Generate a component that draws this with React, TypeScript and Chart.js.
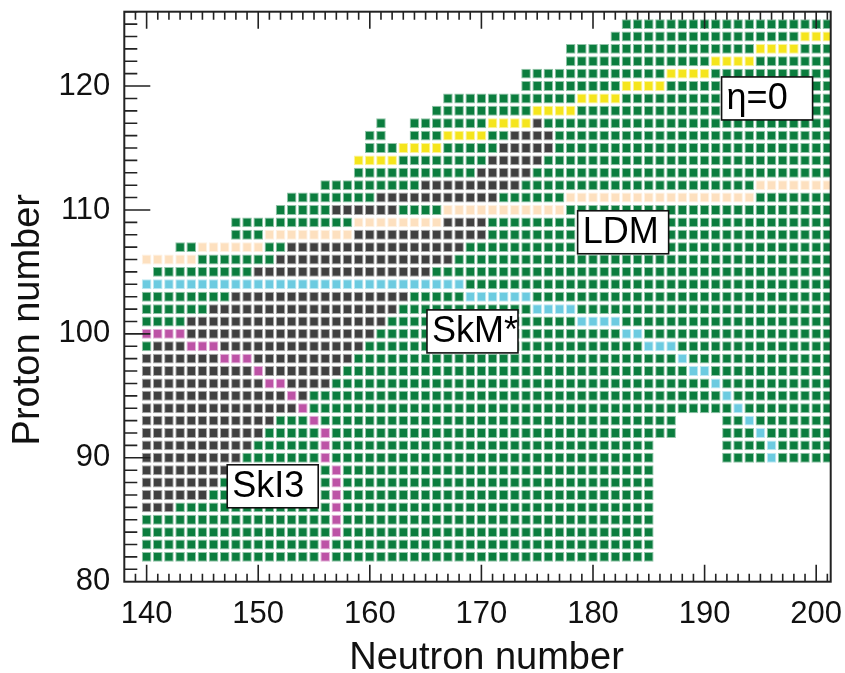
import React, { useEffect, useRef } from "react";
import { Chart, registerables } from "chart.js";

Chart.register(...registerables);

type Seg = [number, number, number]; // [Z, first N, last N]

// all nuclei shown on the chart (rows of the nuclear chart)
const nucleiRows: Seg[] = [
  [82, 140, 185], [83, 140, 185], [84, 140, 185], [85, 140, 185], [86, 140, 185],
  [87, 140, 185], [88, 140, 185], [89, 140, 185],
  [90, 140, 185], [90, 192, 201], [91, 140, 185], [91, 192, 201],
  [92, 140, 187], [92, 192, 201], [93, 140, 187], [93, 192, 201],
  [94, 140, 201], [95, 140, 201], [96, 140, 201], [97, 140, 201], [98, 140, 201],
  [99, 140, 201], [100, 140, 201], [101, 140, 201], [102, 140, 201], [103, 140, 201],
  [104, 140, 201], [105, 141, 201], [106, 140, 201], [107, 143, 201], [108, 148, 201],
  [109, 148, 201], [110, 152, 201], [111, 153, 201], [112, 156, 201], [113, 159, 201],
  [114, 159, 201], [115, 160, 201], [116, 160, 161], [116, 164, 201], [117, 161, 161],
  [117, 164, 201], [118, 166, 201], [119, 167, 201], [120, 174, 201], [121, 174, 201],
  [122, 178, 201], [123, 178, 201], [124, 182, 201], [125, 183, 201],
];

// dark grey region
const darkRegion: Seg[] = [
  [86, 140, 142], [87, 140, 145], [88, 140, 146], [89, 140, 147], [90, 140, 148],
  [91, 140, 149], [92, 140, 150], [93, 140, 151], [94, 140, 153], [95, 140, 154],
  [96, 140, 156], [97, 140, 157], [98, 140, 158], [99, 141, 159], [100, 140, 160],
  [101, 144, 161], [102, 146, 162], [103, 148, 163], [105, 150, 165], [106, 152, 167],
  [107, 153, 168], [108, 159, 170], [109, 167, 170], [110, 157, 162], [111, 161, 171],
  [112, 165, 173], [113, 170, 174], [114, 171, 175], [115, 172, 176], [116, 173, 176],
  [117, 175, 175],
];

// eta = 0 line (yellow)
const eta0Line: Seg[] = [
  [114, 159, 162], [115, 163, 166], [116, 167, 170], [117, 171, 174], [118, 175, 178],
  [119, 179, 182], [120, 183, 186], [121, 187, 190], [122, 191, 194], [123, 195, 198],
  [124, 199, 201],
];

// LDM line (peach)
const ldmLine: Seg[] = [
  [106, 140, 144], [107, 145, 150], [108, 151, 158], [109, 159, 166], [110, 167, 177],
  [111, 178, 194], [112, 195, 201],
];

// SkM* line (light blue)
const skmLine: Seg[] = [
  [104, 140, 168], [103, 169, 174], [102, 175, 178], [101, 179, 182], [100, 183, 184],
  [99, 185, 187], [98, 188, 188], [97, 189, 190], [96, 191, 191], [95, 192, 192],
  [94, 193, 193], [93, 194, 194], [92, 195, 195], [91, 196, 196], [90, 196, 196],
];

// SkI3 line (magenta)
const ski3Line: Seg[] = [
  [100, 140, 143], [99, 144, 146], [98, 147, 149], [97, 150, 150], [96, 151, 152],
  [95, 153, 153], [94, 154, 154], [93, 155, 155], [92, 156, 156], [91, 156, 156],
  [90, 156, 156], [89, 157, 157], [88, 157, 157], [87, 157, 157], [86, 157, 157],
  [85, 157, 157], [84, 157, 157], [83, 156, 156], [82, 156, 156],
];

const xTickLabels = [140, 150, 160, 170, 180, 190, 200];
const yTickLabels = [80, 90, 100, 110, 120];
const xRange = [138, 201.3];
const yRange = [80, 126];

const annotations = [
  { text: "η=0", n: 195.6, z: 119.0 },
  { text: "LDM", n: 182.7, z: 108.2 },
  { text: "SkM*", n: 169.2, z: 100.2 },
  { text: "SkI3", n: 151.3, z: 87.7 },
];

const FONT = "'Liberation Sans', Arial, sans-serif";
const CELL_HALF_H = 0.4;

const layers = [
  { name: "nuclei", segs: nucleiRows, color: "#0b7d3e" },
  { name: "region", segs: darkRegion, color: "#404040" },
  { name: "LDM", segs: ldmLine, color: "#fde0bf" },
  { name: "η=0", segs: eta0Line, color: "#f5e51c" },
  { name: "SkM*", segs: skmLine, color: "#6ccbe0" },
  { name: "SkI3", segs: ski3Line, color: "#bd53a6" },
];

function rgba(hex: string, a: number) {
  const v = parseInt(hex.slice(1), 16);
  return `rgba(${(v >> 16) & 255},${(v >> 8) & 255},${v & 255},${a})`;
}

function buildDatasets() {
  const cat = new Map<string, { n: number; z: number; layer: number }>();
  layers.forEach((layer, li) => {
    for (const [z, a, b] of layer.segs) {
      for (let n = a; n <= b; n++) cat.set(n + ":" + z, { n, z, layer: li });
    }
  });
  return layers.map((layer, li) => {
    const data: any[] = [];
    cat.forEach((c) => {
      if (c.layer === li) data.push({ x: c.n, y: [c.z - CELL_HALF_H, c.z + CELL_HALF_H] });
    });
    return {
      label: layer.name,
      data,
      backgroundColor: layer.color,
      borderColor: rgba(layer.color, 0.45),
      borderWidth: 1,
      borderSkipped: false,
      grouped: false,
      barPercentage: 0.86,
      categoryPercentage: 1,
      clip: 0,
    };
  });
}

const framePlugin = {
  id: "nuclearFrame",
  afterDatasetsDraw(chart: any) {
    const { ctx, chartArea: a, scales } = chart;
    const x = scales.x;
    const y = scales.y;
    ctx.save();
    // annotation boxes
    for (const lab of annotations) {
      const cx = x.getPixelForValue(lab.n);
      const cy = y.getPixelForValue(lab.z);
      const w = 91;
      const h = 43;
      ctx.fillStyle = "#ffffff";
      ctx.fillRect(cx - w / 2, cy - h / 2, w, h);
      ctx.lineWidth = 1.6;
      ctx.strokeStyle = "#111";
      ctx.strokeRect(cx - w / 2, cy - h / 2, w, h);
      ctx.fillStyle = "#000";
      ctx.font = `36px ${FONT}`;
      ctx.textAlign = "left";
      ctx.textBaseline = "middle";
      ctx.fillText(lab.text, cx - w / 2 + 5, cy + 1);
    }
    // frame
    ctx.strokeStyle = "#222";
    ctx.lineWidth = 2;
    ctx.strokeRect(a.left, a.top, a.right - a.left, a.bottom - a.top);
    // inward ticks
    ctx.lineWidth = 1.6;
    ctx.beginPath();
    for (let v = Math.ceil(y.min); v <= Math.floor(y.max); v++) {
      if (v === y.min) continue;
      const py = y.getPixelForValue(v);
      const len = yTickLabels.includes(v) ? 26 : 13;
      ctx.moveTo(a.left, py);
      ctx.lineTo(a.left + len, py);
    }
    for (let v = Math.ceil(x.min); v <= Math.floor(x.max); v++) {
      if (v === x.min) continue;
      const px = x.getPixelForValue(v);
      const major = xTickLabels.includes(v);
      ctx.moveTo(px, a.bottom);
      ctx.lineTo(px, a.bottom - (major ? 17 : 8));
      ctx.moveTo(px, a.top);
      ctx.lineTo(px, a.top + (major ? 17 : 8));
    }
    ctx.stroke();
    // axis titles
    ctx.fillStyle = "#111";
    ctx.font = `38px ${FONT}`;
    ctx.textAlign = "center";
    ctx.textBaseline = "alphabetic";
    ctx.fillText("Neutron number", (a.left + a.right) / 2 + 9, a.bottom + 87);
    ctx.translate(a.left - 96, (a.top + a.bottom) / 2 + 23);
    ctx.rotate(-Math.PI / 2);
    ctx.textBaseline = "middle";
    ctx.fillText("Proton number", 0, 0);
    ctx.restore();
  },
};

export default function App() {
  const ref = useRef<HTMLCanvasElement | null>(null);
  useEffect(() => {
    if (!ref.current) return;
    const chart = new Chart(ref.current, {
      type: "bar",
      data: { datasets: buildDatasets() as any },
      options: {
        animation: false,
        responsive: false,
        devicePixelRatio: 1,
        events: [],
        layout: { padding: { left: 0, top: 11.7, right: 14.3, bottom: 0 } },
        plugins: { legend: { display: false }, tooltip: { enabled: false } },
        scales: {
          x: {
            type: "linear",
            min: xRange[0],
            max: xRange[1],
            offset: false,
            grid: { display: false, offset: false },
            border: { display: false },
            afterBuildTicks: (s: any) => {
              s.ticks = xTickLabels.map((v) => ({ value: v }));
            },
            afterFit: (s: any) => {
              s.height = 91.3;
              s.paddingLeft = 0;
              s.paddingRight = 0;
            },
            ticks: {
              autoSkip: false,
              maxRotation: 0,
              padding: 6,
              color: "#111",
              font: { family: FONT, size: 31 },
            },
          },
          y: {
            type: "linear",
            min: yRange[0],
            max: yRange[1],
            grid: { display: false },
            border: { display: false },
            afterBuildTicks: (s: any) => {
              s.ticks = yTickLabels.map((v) => ({ value: v }));
            },
            afterFit: (s: any) => {
              s.width = 124.3;
              s.paddingTop = 0;
              s.paddingBottom = 0;
            },
            ticks: {
              autoSkip: false,
              padding: 6,
              color: "#111",
              font: { family: FONT, size: 31 },
            },
          },
        },
      } as any,
      plugins: [framePlugin],
    });
    return () => chart.destroy();
  }, []);
  return (
    <div style={{ position: "fixed", left: 0, top: 0, width: 845, height: 673 }}>
      <canvas ref={ref} width={845} height={673} />
    </div>
  );
}
